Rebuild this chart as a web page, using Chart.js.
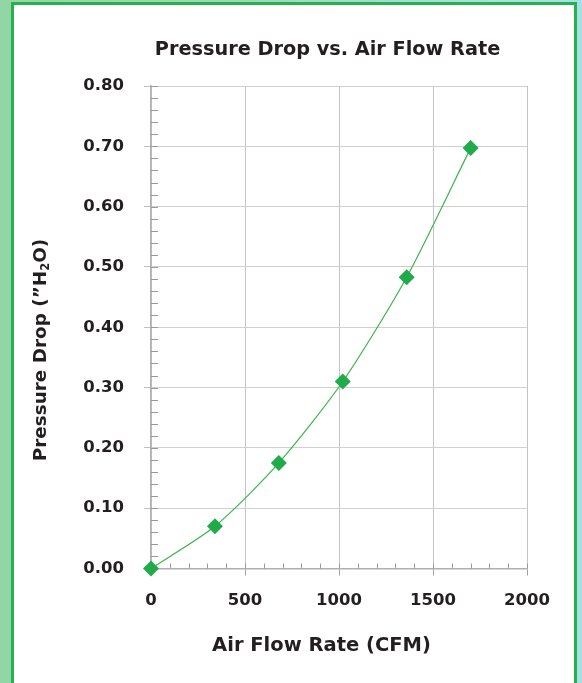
<!DOCTYPE html>
<html>
<head>
<meta charset="utf-8">
<script src="https://cdn.jsdelivr.net/npm/chart.js@4"></script>
<style>
  html, body { margin: 0; padding: 0; }
  body { width: 582px; height: 683px; overflow: hidden; position: relative;
         background: linear-gradient(to right, #93d6a6 0%, #9ad9b8 40%, #a4dfdc 80%, #a8e0ea 100%); }
  #left { position: absolute; left: 0; top: 0; width: 11px; height: 683px; background: #93d6a6; }
  #right { position: absolute; left: 577px; top: 0; width: 5px; height: 683px; background: #a6dfe6; }
  #frame { position: absolute; left: 11px; top: 2px; width: 560px; height: 690px;
           border: 3px solid #27b14c; border-bottom: none; background: #ffffff; }
  #wrap { position: absolute; left: 0; top: 0; width: 582px; height: 683px; }
</style>
</head>
<body>
<div id="left"></div>
<div id="right"></div>
<div id="frame"></div>
<div id="wrap"><canvas id="c" width="582" height="683"></canvas></div>
<script>
const chartTitle = 'Pressure Drop vs. Air Flow Rate';
const xAxisTitle = 'Air Flow Rate (CFM)';
const yAxisTitleParts = ['Pressure Drop (\u201DH', '2', 'O)'];
const airFlow = [0, 340, 680, 1020, 1360, 1700];
const pressureDrop = [0, 0.07, 0.175, 0.31, 0.483, 0.697];
const xTickValues = [0, 500, 1000, 1500, 2000];
const yTickValues = [0, 0.1, 0.2, 0.3, 0.4, 0.5, 0.6, 0.7, 0.8];
const xMinorStep = 100;
const yMinorStep = 0.02;

const FONT = '"DejaVu Sans", sans-serif';
const TEXT = '#231f20';

const extras = {
  id: 'extras',
  beforeDatasetsDraw(chart) {
    const ctx = chart.ctx;
    const xs = chart.scales.x, ys = chart.scales.y;
    const a = chart.chartArea;
    ctx.save();
    ctx.strokeStyle = '#9a9a9a';
    ctx.lineWidth = 1;
    for (let i = 0; i <= Math.round((ys.max - ys.min) / yMinorStep); i++) {
      const v = ys.min + i * yMinorStep;
      const py = Math.round(ys.getPixelForValue(v)) + 0.5;
      ctx.beginPath(); ctx.moveTo(a.left, py); ctx.lineTo(a.left + 7, py); ctx.stroke();
    }
    for (let i = 1; i <= Math.round((xs.max - xs.min) / xMinorStep); i++) {
      const v = xs.min + i * xMinorStep;
      const px = Math.round(xs.getPixelForValue(v)) + 0.5;
      ctx.beginPath(); ctx.moveTo(px, a.bottom); ctx.lineTo(px, a.bottom - 5); ctx.stroke();
    }
    ctx.restore();
  },
  afterDraw(chart) {
    const ctx = chart.ctx;
    ctx.save();
    ctx.fillStyle = TEXT;
    ctx.textBaseline = 'alphabetic';
    ctx.textAlign = 'center';
    ctx.font = 'bold 19.3px ' + FONT;
    ctx.fillText(chartTitle, 327.5, 55);
    ctx.font = 'bold 19.5px ' + FONT;
    ctx.fillText(xAxisTitle, 321.5, 651);
    ctx.save();
    ctx.translate(46, 350);
    ctx.rotate(-Math.PI / 2);
    ctx.textAlign = 'left';
    const big = 'bold 18.4px ' + FONT, small = 'bold 11.5px ' + FONT;
    ctx.font = big; const w0 = ctx.measureText(yAxisTitleParts[0]).width;
    const w2 = ctx.measureText(yAxisTitleParts[2]).width;
    ctx.font = small; const w1 = ctx.measureText(yAxisTitleParts[1]).width;
    const total = w0 + w1 + w2;
    let x0 = -total / 2;
    ctx.font = big; ctx.fillText(yAxisTitleParts[0], x0, 0);
    ctx.font = small; ctx.fillText(yAxisTitleParts[1], x0 + w0, 3);
    ctx.font = big; ctx.fillText(yAxisTitleParts[2], x0 + w0 + w1, 0);
    ctx.restore();
    ctx.restore();
  }
};

new Chart(document.getElementById('c'), {
  type: 'scatter',
  data: {
    datasets: [{
      data: airFlow.map((x, i) => ({ x: x, y: pressureDrop[i] })),
      showLine: true,
      clip: false,
      borderColor: '#3cb54a',
      borderWidth: 1.2,
      tension: 0.25,
      pointStyle: 'rectRot',
      pointRadius: 8,
      pointHoverRadius: 8,
      pointBackgroundColor: '#1fab4a',
      pointBorderColor: '#1fab4a',
      pointBorderWidth: 0
    }]
  },
  options: {
    responsive: false,
    animation: false,
    devicePixelRatio: 1,
    layout: { padding: { left: 0, top: 86, right: 55, bottom: 54.5 } },
    plugins: { legend: { display: false }, tooltip: { enabled: false }, title: { display: false } },
    scales: {
      x: {
        type: 'linear', min: 0, max: 2000,
        afterBuildTicks: s => { s.ticks = xTickValues.map(v => ({ value: v })); },
        afterFit: s => { s.height = 60; },
        grid: { color: '#c4c4c4', lineWidth: 1, tickLength: 7, tickColor: '#a0a0a0' },
        border: { color: '#b0b0b0', width: 1.5 },
        ticks: { color: TEXT, padding: 15, font: { family: FONT, size: 16.5, weight: 'bold' }, maxRotation: 0,
                 callback: v => String(v) }
      },
      y: {
        type: 'linear', min: 0, max: 0.8,
        afterBuildTicks: s => { s.ticks = yTickValues.map(v => ({ value: v })); },
        afterFit: s => { s.width = 151; },
        grid: { color: '#d0d0d0', lineWidth: 1, tickLength: 7, tickColor: '#c0c0c0' },
        border: { color: '#b0b0b0', width: 1.5 },
        ticks: { color: TEXT, padding: 20, font: { family: FONT, size: 16.5, weight: 'bold' },
                 callback: v => Number(v).toFixed(2) }
      }
    }
  },
  plugins: [extras]
});
</script>
</body>
</html>
